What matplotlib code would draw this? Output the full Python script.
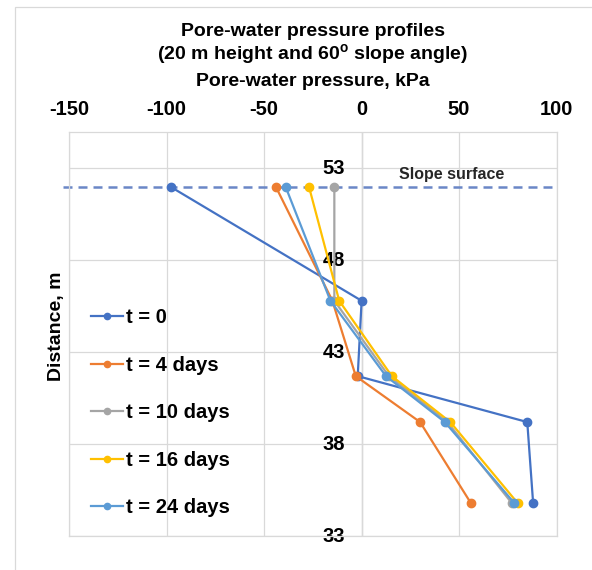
import matplotlib
matplotlib.use("Agg")
import matplotlib.pyplot as plt
import matplotlib.transforms as mtransforms
from matplotlib.patches import Rectangle

# ── data ─────────────────────────────────────────────────────────────────────
distance = [52.0, 45.8, 41.7, 39.2, 34.8]          # m

pwp_t0 = [-98, 0, -2, 85, 88]                       # kPa
pwp_t4 = [-44, -15, -3, 30, 56]
pwp_t10 = [-14, -14, 14, 44, 77]
pwp_t16 = [-27, -11.5, 15.5, 45.5, 80]
pwp_t24 = [-39, -16, 12.5, 42.7, 78.3]

series_labels = ["t = 0", "t = 4 days", "t = 10 days", "t = 16 days", "t = 24 days"]
series_colors = ["#4472C4", "#ED7D31", "#A5A5A5", "#FFC000", "#5B9BD5"]

slope_surface = 52.0
slope_x = [-153, 101]

x_ticks = [-150, -100, -50, 0, 50, 100]
x_tick_labels = ["-150", "-100", "-50", "0", "50", "100"]
y_ticks = [33, 38, 43, 48, 53]
y_tick_labels = ["33", "38", "43", "48", "53"]

# ── style ────────────────────────────────────────────────────────────────────
SANS = ["Liberation Sans", "DejaVu Sans"]
GRID = "#D9D9D9"

plt.rcParams.update({
    "font.family": SANS,
    "mathtext.fontset": "custom",
    "mathtext.rm": "Liberation Sans:bold",
    "mathtext.it": "Liberation Sans:bold",
    "axes.unicode_minus": False,
})

fig = plt.figure(figsize=(5.92, 5.70), dpi=100)
W, H = 592, 570
ax = fig.add_axes([69.3 / W, 1 - 536 / H, 487.2 / W, 404.3 / H])

# outer chart frame
fig.patches.append(Rectangle((15 / W, -0.1), 1.2, 1.1 - 6.7 / H,
                             transform=fig.transFigure, fill=False,
                             edgecolor=GRID, linewidth=0.9))

ax.set_xlim(-150, 100)
ax.set_ylim(33, 55)
ax.set_xticks(x_ticks)
ax.set_xticklabels(x_tick_labels)
ax.set_yticks(y_ticks)
ax.set_yticklabels([])
ax.xaxis.tick_top()
ax.tick_params(axis="both", length=0)
ax.tick_params(axis="x", pad=9)
for lab in ax.get_xticklabels():
    lab.set_fontweight("bold")
    lab.set_fontsize(14.5)

ax.grid(True, color=GRID, linewidth=0.9, zorder=0)
ax.set_axisbelow(True)
for sp in ax.spines.values():
    sp.set_color(GRID)
    sp.set_linewidth(0.9)
ax.axvline(0, color="#BFBFBF", linewidth=0.9, zorder=0.5)

# y tick labels sit on the x = 0 axis
ytrans = mtransforms.offset_copy(ax.transData, fig=fig, x=-12, y=0, units="points")
for yv, txt in zip(y_ticks, y_tick_labels):
    ax.text(0, yv, txt, transform=ytrans, ha="right", va="center",
            fontweight="bold", fontsize=14.5, zorder=2.5, clip_on=False)

# slope surface line
ax.plot(slope_x, [slope_surface, slope_surface], color="#6A87C6",
        linewidth=1.8, linestyle=(0, (3.6, 2.4)), zorder=1.5, clip_on=False)
ax.text(46, 52.42, "Slope surface", ha="center", va="baseline",
        fontsize=11.5, fontweight="bold", color="#262626")

handles = []
for vals, lab, col in zip([pwp_t0, pwp_t4, pwp_t10, pwp_t16, pwp_t24],
                          series_labels, series_colors):
    ln, = ax.plot(vals, distance, color=col, linewidth=1.6, marker="o",
                  markersize=6, label=lab, zorder=3, clip_on=False)
    handles.append(ln)

leg = ax.legend(handles=handles, loc="center left",
                bbox_to_anchor=(0.044, 0.305), frameon=False,
                prop={"weight": "bold", "size": 14.5},
                handlelength=1.6, handletextpad=0.15, labelspacing=1.42,
                borderpad=0, borderaxespad=0, markerscale=0.75)

# titles and axis labels
cx = (69.3 + 556.5) / 2 / W
fig.text(cx, 1 - 31 / H, "Pore-water pressure profiles", ha="center", va="center",
         fontsize=14, fontweight="bold")
fig.text(cx, 1 - 54 / H, r"(20 m height and 60$^{\mathrm{o}}$ slope angle)",
         ha="center", va="center", fontsize=14, fontweight="bold")
fig.text(cx, 1 - 82 / H, "Pore-water pressure, kPa", ha="center", va="center",
         fontsize=14, fontweight="bold")
fig.text(56 / W, 1 - 326 / H, "Distance, m", ha="center", va="center",
         rotation=90, fontsize=14, fontweight="bold")

fig.savefig("out.png", dpi=100)
